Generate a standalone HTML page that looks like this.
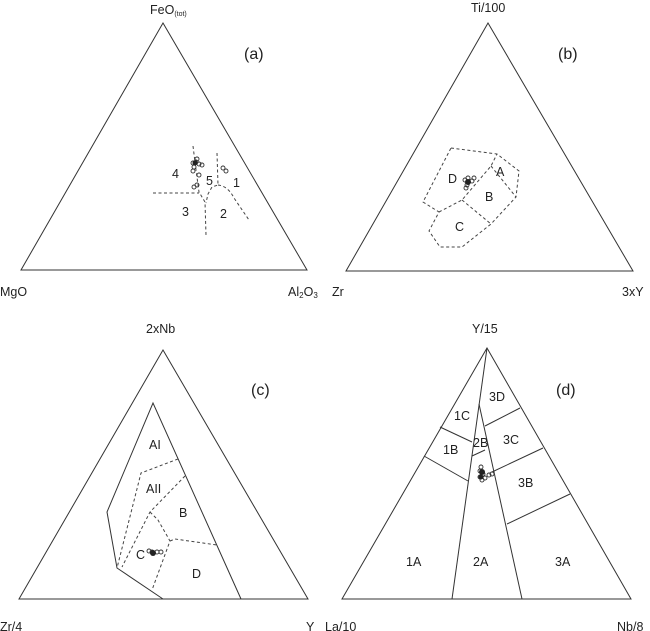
<!DOCTYPE html>
<html><head><style>
html,body{margin:0;padding:0;background:#fff;}
svg{display:block;}
text{font-family:"Liberation Sans",sans-serif;font-size:12.5px;fill:#222;}
</style></head><body>
<svg width="650" height="631" viewBox="0 0 650 631" xmlns="http://www.w3.org/2000/svg">
<g fill="none" stroke="#333" stroke-width="1">
<polygon points="163,23 21,270 307,270"/>
<polygon points="488,23 346,271 633,271"/>
<polygon points="163,350 19,599 308,599"/>
<polyline points="241,599 153,403 107,512 117,568 163,599"/>
<polygon points="487,348 342,599 631,599"/>
<line x1="487" y1="348" x2="452" y2="599"/>
<line x1="479" y1="404" x2="522" y2="599"/>
<line x1="440" y1="427" x2="472" y2="442"/>
<line x1="472" y1="456" x2="485" y2="450"/>
<line x1="424" y1="456" x2="468" y2="481"/>
<line x1="485" y1="426" x2="520" y2="408"/>
<line x1="492" y1="472" x2="543" y2="448"/>
<line x1="507" y1="524" x2="570" y2="494"/>
</g>
<g fill="none" stroke="#444" stroke-width="1" stroke-dasharray="3,2.5">
<polyline points="193,146 196,170 199,192 205,202 206,235"/>
<line x1="153" y1="193" x2="199" y2="193"/>
<polyline points="217,153 218,185 212,187 208,194 206,203"/>
<path d="M218,185 Q228,186 234,198 L249,220"/>
<polygon points="451,148 497,154 519,171 516,197 491,224 462,247 440,247 429,231 439,212 423,202"/>
<polyline points="439,212 462,200 491,166 497,154"/>
<line x1="491" y1="166" x2="516" y2="197"/>
<line x1="462" y1="200" x2="491" y2="224"/>
<polyline points="178,459 141,473 117,568"/>
<polyline points="185,476 150,512 122,567"/>
<polyline points="150,512 158,520 170,541 152,590"/>
<polyline points="170,541 175,539 217,545"/>
</g>
<g fill="none" stroke="#333" stroke-width="0.9">
<circle cx="193" cy="163" r="2"/><circle cx="196" cy="162" r="2"/><circle cx="199" cy="164" r="2"/><circle cx="202" cy="165" r="2"/><circle cx="194" cy="167" r="2"/><circle cx="193" cy="171" r="2"/><circle cx="197" cy="159" r="2"/><circle cx="199" cy="175" r="2"/><circle cx="194" cy="187" r="2"/><circle cx="197" cy="185" r="2"/><circle cx="223" cy="168" r="2"/><circle cx="226" cy="171" r="2"/>
<circle cx="465" cy="180" r="2"/><circle cx="468" cy="178" r="2"/><circle cx="472" cy="181" r="2"/><circle cx="474" cy="178" r="2"/><circle cx="467" cy="185" r="2"/><circle cx="466" cy="188" r="2"/>
<circle cx="149" cy="551" r="2"/><circle cx="152" cy="552" r="2"/><circle cx="157" cy="552" r="2"/><circle cx="161" cy="552" r="2"/>
<circle cx="481" cy="467" r="2"/><circle cx="480" cy="471" r="2"/><circle cx="483" cy="474" r="2"/><circle cx="480" cy="477" r="2"/><circle cx="485" cy="478" r="2"/><circle cx="489" cy="475" r="2"/><circle cx="492" cy="474" r="2"/><circle cx="482" cy="480" r="2"/>
</g>
<g fill="#222"><circle cx="195" cy="163" r="2.5"/><circle cx="468" cy="182" r="3"/><circle cx="153" cy="553" r="3"/><circle cx="482" cy="472" r="3"/><circle cx="481" cy="477" r="2.5"/></g>
<text x="150" y="14">FeO<tspan font-size="7" dy="2">(tot)</tspan></text>
<text x="0" y="296">MgO</text>
<text x="288" y="296">Al<tspan font-size="8" dy="2">2</tspan><tspan dy="-2">O</tspan><tspan font-size="8" dy="2">3</tspan></text>
<text x="244" y="59" style="font-size:16px">(a)</text>
<text x="172" y="178">4</text><text x="206" y="185">5</text><text x="233" y="187">1</text><text x="182" y="216">3</text><text x="220" y="218">2</text>
<text x="471" y="12">Ti/100</text>
<text x="332" y="296">Zr</text>
<text x="622" y="296">3xY</text>
<text x="558" y="59" style="font-size:16px">(b)</text>
<text x="448" y="183">D</text><text x="496" y="176">A</text><text x="485" y="201">B</text><text x="455" y="231">C</text>
<text x="146" y="333">2xNb</text>
<text x="0" y="631">Zr/4</text>
<text x="306" y="631">Y</text>
<text x="251" y="395" style="font-size:16px">(c)</text>
<text x="149" y="449">AI</text><text x="146" y="493">AII</text><text x="179" y="517">B</text><text x="136" y="559">C</text><text x="192" y="578">D</text>
<text x="472" y="333">Y/15</text>
<text x="325" y="631">La/10</text>
<text x="617" y="631">Nb/8</text>
<text x="556" y="395" style="font-size:16px">(d)</text>
<text x="489" y="401">3D</text><text x="454" y="420">1C</text><text x="473" y="447">2B</text><text x="503" y="444">3C</text><text x="443" y="454">1B</text><text x="518" y="487">3B</text><text x="406" y="566">1A</text><text x="473" y="566">2A</text><text x="555" y="566">3A</text>
</svg>
</body></html>
